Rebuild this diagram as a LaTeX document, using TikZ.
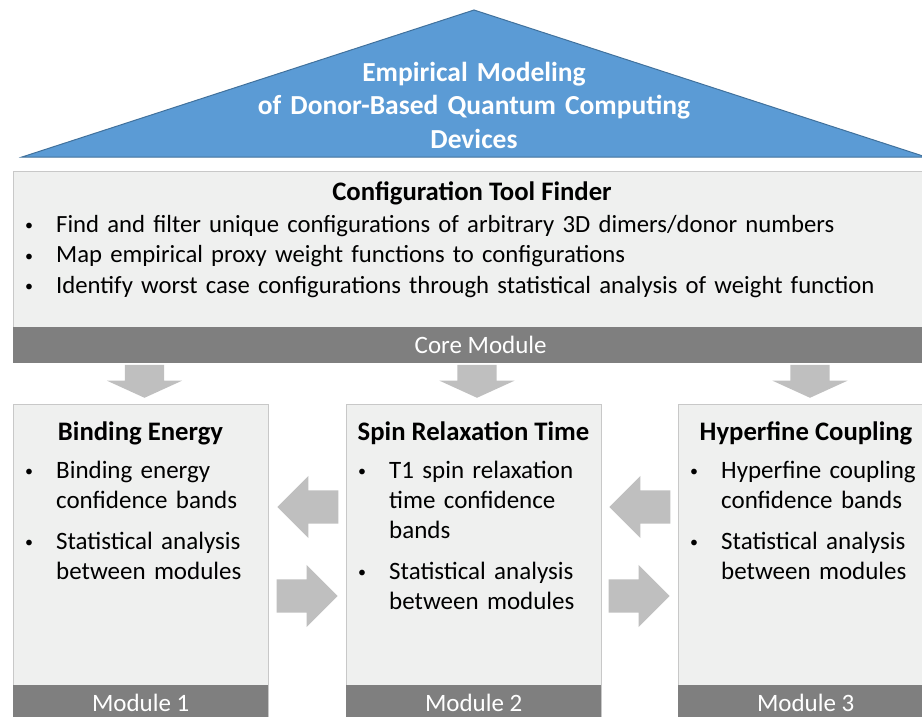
\documentclass[tikz,border=0pt]{standalone}
\usepackage{fontspec}
\setmainfont{Carlito}
\usetikzlibrary{shapes.arrows, positioning}

\definecolor{roofblue}{HTML}{5B9BD5}
\definecolor{roofedge}{HTML}{41719C}
\definecolor{panelfill}{HTML}{EFF0EF}
\definecolor{paneledge}{HTML}{C8C8C8}
\definecolor{bargray}{HTML}{7F7F7F}
\definecolor{flowgray}{HTML}{BFBFBF}

% bullet item with hanging text block
\newcommand{\itm}[2][215pt]{\makebox[35pt][l]{\makebox[16pt][c]{\raisebox{1.5pt}{\fontsize{16}{16}\selectfont\textbullet}}}\parbox[t]{#1}{\strut#2\strut}}
\newcommand{\nextitm}{\par\vspace{10pt}}

\begin{document}
\begin{tikzpicture}[
    x=1pt, y=-1pt,
    panel/.style={rectangle, draw=paneledge, line width=1pt, fill=panelfill, anchor=north west, inner sep=0pt},
    bar/.style={rectangle, fill=bargray, text=white, anchor=south west, inner sep=0pt, minimum height=36pt, font=\fontsize{25}{30}\selectfont},
    heading/.style={font=\bfseries\fontsize{26.7}{30}\selectfont, anchor=base, inner sep=0pt},
    points/.style={font=\fontsize{25}{30}\selectfont, align=left, anchor=base west, inner sep=0pt, text width=250pt},
    flow/.style={single arrow, fill=flowgray, inner xsep=0pt, inner ysep=16.5pt, minimum height=61pt, single arrow head extend=14.5pt, anchor=tip},
    down/.style={single arrow, fill=flowgray, inner xsep=0pt, inner ysep=19.5pt, minimum height=33pt, single arrow head extend=18pt, single arrow tip angle=131, rotate=-90, anchor=tip}
]
    \clip (0,0) rectangle (922,716);

    % roof
    \draw [fill=roofblue, draw=roofedge, line width=1pt] (22,157) -- (474,10) -- (926,157) -- cycle;
    \node (roof) [heading, text=white, text width=560pt, align=center, font=\bfseries\fontsize{27.5}{33.5}\selectfont] at (474,81)
        {Empirical Modeling\\of Donor-Based Quantum Computing\\Devices};

    % core module
    \node (core) [panel, minimum width=935pt, minimum height=191pt] at (13,171) {};
    \node (corebar) [bar, minimum width=935pt] at (core.south west) {Core Module};
    \node (coretitle) [heading] at (472,200) {Configuration Tool Finder};
    \node (corelist) [points, text width=900pt, font=\fontsize{24.7}{30.5}\selectfont] at (21,232) {%
        \itm[850pt]{Find and filter unique configurations of arbitrary 3D dimers/donor numbers}\par
        \itm[850pt]{Map empirical proxy weight functions to configurations}\par
        \itm[850pt]{Identify worst case configurations through statistical analysis of weight function}};

    % modules
    \node (m1) [panel, minimum width=255pt, minimum height=316pt] at (13,404) {};
    \node (m1bar) [bar, minimum width=255pt] at (m1.south west) {Module 1};
    \node (m2) [panel, minimum width=255pt, minimum height=316pt] at (346,404) {};
    \node (m2bar) [bar, minimum width=255pt] at (m2.south west) {Module 2};
    \node (m3) [panel, minimum width=255pt, minimum height=316pt] at (678,404) {};
    \node (m3bar) [bar, minimum width=255pt] at (m3.south west) {Module 3};

    \node (t1) [heading] at (140.5,440) {Binding Energy};
    \node (l1) [points] at (21,478) {%
        \itm{Binding energy\\confidence bands}\nextitm
        \itm{Statistical analysis\\between modules}};
    \node (t2) [heading] at (473.5,440) {Spin Relaxation Time};
    \node (l2) [points] at (354,478) {%
        \itm{T1 spin relaxation\\time confidence\\bands}\nextitm
        \itm{Statistical analysis\\between modules}};
    \node (t3) [heading] at (806,440) {Hyperfine Coupling};
    \node (l3) [points] at (686,478) {%
        \itm{Hyperfine coupling\\confidence bands}\nextitm
        \itm{Statistical analysis\\between modules}};

    % flow arrows
    \node (d1) [down] at (144.5,398) {};
    \node (d2) [down] at (477,398) {};
    \node (d3) [down] at (810,398) {};
    \node (b12) [flow, rotate=180] at (277,507) {};
    \node (f12) [flow] at (338,596) {};
    \node (b23) [flow, rotate=180] at (609,507) {};
    \node (f23) [flow] at (670,596) {};
\end{tikzpicture}
\end{document}
